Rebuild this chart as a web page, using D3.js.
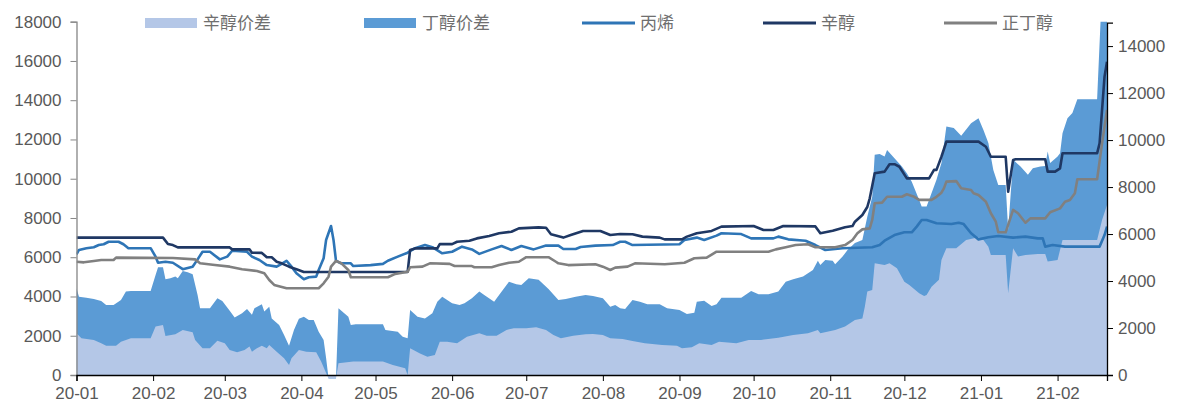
<!DOCTYPE html>
<html lang="zh">

<head>
    <meta charset="utf-8">
    <script src='https://d3js.org/d3.v7.min.js'></script>
</head>

<body style="margin:0;background:#fff">

    <style>
        svg text {
            font-family: "Liberation Sans", Arial, sans-serif;
            font-size: 17px;
            fill: #595959;
        }

        svg .legend text {
            font-family: "Noto Sans CJK SC", sans-serif;
            font-size: 17px;
            fill: #6f6f6f;
        }
    </style>

    <script>
        // 价差 (right axis), yuan/t
        let octSpread = [["2020-01-01",1780],["2020-01-03",1560],["2020-01-08",1490],["2020-01-11",1350],["2020-01-13",1240],["2020-01-17",1240],["2020-01-19",1420],["2020-01-23",1560],["2020-01-31",1560],["2020-02-02",2060],["2020-02-05",2130],["2020-02-06",1660],["2020-02-10",1730],["2020-02-13",1920],["2020-02-17",1820],["2020-02-18",1490],["2020-02-21",1140],["2020-02-24",1140],["2020-02-27",1460],["2020-03-01",1350],["2020-03-03",1060],["2020-03-06",970],["2020-03-09",1060],["2020-03-11",1210],["2020-03-12",990],["2020-03-14",1140],["2020-03-16",1240],["2020-03-18",1140],["2020-03-19",1280],["2020-03-22",990],["2020-03-25",710],["2020-03-27",430],["2020-03-28",710],["2020-03-31",1060],["2020-04-03",990],["2020-04-07",970],["2020-04-09",570],["2020-04-11",90],["2020-04-12",-150],["2020-04-15",-150],["2020-04-16",500],["2020-04-22",570],["2020-05-04",570],["2020-05-08",430],["2020-05-13",290],["2020-05-14",0],["2020-05-15",1140],["2020-05-19",920],["2020-05-22",780],["2020-05-25",850],["2020-05-27",1420],["2020-05-30",1420],["2020-06-03",1350],["2020-06-07",1630],["2020-06-12",1780],["2020-06-15",1670],["2020-06-19",1670],["2020-06-23",1920],["2020-06-26",1990],["2020-07-01",1990],["2020-07-05",2030],["2020-07-09",1920],["2020-07-12",1700],["2020-07-15",1560],["2020-07-20",1670],["2020-07-25",1730],["2020-07-28",1750],["2020-08-01",1700],["2020-08-04",1560],["2020-08-09",1530],["2020-08-13",1450],["2020-08-18",1350],["2020-08-25",1280],["2020-08-31",1250],["2020-09-02",1140],["2020-09-06",1180],["2020-09-09",1350],["2020-09-14",1280],["2020-09-17",1420],["2020-09-24",1350],["2020-09-29",1490],["2020-10-04",1490],["2020-10-11",1590],["2020-10-17",1700],["2020-10-23",1780],["2020-10-27",1920],["2020-10-28",1780],["2020-11-03",1920],["2020-11-07",2060],["2020-11-11",2340],["2020-11-14",2410],["2020-11-15",2910],["2020-11-16",3550],["2020-11-18",3620],["2020-11-19",4760],["2020-11-23",4680],["2020-11-25",4760],["2020-11-28",4540],["2020-12-01",3970],["2020-12-03",3830],["2020-12-07",3480],["2020-12-09",3360],["2020-12-10",3410],["2020-12-12",3760],["2020-12-15",4050],["2020-12-16",4900],["2020-12-18",5400],["2020-12-22",5400],["2020-12-26",5750],["2020-12-31",5860],["2021-01-02",5750],["2021-01-04",5460],["2021-01-05",5110],["2021-01-11",5110],["2021-01-12",3480],["2021-01-14",5400],["2021-01-16",5040],["2021-01-19",5110],["2021-01-24",5150],["2021-01-27",5150],["2021-01-28",4830],["2021-02-01",4900],["2021-02-03",5750],["2021-02-17",5750],["2021-02-19",6600],["2021-02-21",7240]];

        let butSpread = [["2020-01-01",3690],["2020-01-02",3330],["2020-01-05",3290],["2020-01-08",3240],["2020-01-11",3150],["2020-01-13",2980],["2020-01-16",2980],["2020-01-19",3190],["2020-01-21",3550],["2020-01-23",3580],["2020-01-31",3580],["2020-02-02",4260],["2020-02-03",4590],["2020-02-05",4590],["2020-02-06",4080],["2020-02-08",4120],["2020-02-10",4190],["2020-02-11",4120],["2020-02-13",4430],["2020-02-15",4370],["2020-02-17",4290],["2020-02-19",3410],["2020-02-20",2840],["2020-02-24",2840],["2020-02-27",3270],["2020-02-29",3150],["2020-03-03",2730],["2020-03-05",2450],["2020-03-08",2630],["2020-03-10",2810],["2020-03-12",2560],["2020-03-13",2840],["2020-03-16",3010],["2020-03-17",2700],["2020-03-19",2910],["2020-03-20",2410],["2020-03-23",2130],["2020-03-25",1700],["2020-03-27",1250],["2020-03-29",1920],["2020-03-31",2390],["2020-04-02",2480],["2020-04-04",2340],["2020-04-06",2340],["2020-04-08",1840],["2020-04-10",1490],["2020-04-11",720],["2020-04-12",-150],["2020-04-15",-150],["2020-04-16",2840],["2020-04-20",2480],["2020-04-21",2130],["2020-04-23",2160],["2020-05-04",2160],["2020-05-05",1920],["2020-05-10",1840],["2020-05-12",1630],["2020-05-14",1560],["2020-05-15",2770],["2020-05-18",2480],["2020-05-21",2410],["2020-05-24",2630],["2020-05-26",3120],["2020-05-28",3330],["2020-06-01",3050],["2020-06-04",2980],["2020-06-06",3050],["2020-06-09",3270],["2020-06-12",3550],["2020-06-14",3410],["2020-06-18",3120],["2020-06-20",3410],["2020-06-24",3970],["2020-06-27",3860],["2020-06-29",3830],["2020-07-02",4120],["2020-07-06",4050],["2020-07-10",3660],["2020-07-14",3190],["2020-07-17",3240],["2020-07-21",3330],["2020-07-25",3410],["2020-07-28",3360],["2020-08-01",3270],["2020-08-04",2910],["2020-08-06",2980],["2020-08-08",2840],["2020-08-10",2810],["2020-08-13",3190],["2020-08-16",3120],["2020-08-19",3010],["2020-08-24",3010],["2020-08-27",2840],["2020-09-01",2770],["2020-09-04",2600],["2020-09-07",2650],["2020-09-08",3120],["2020-09-11",3160],["2020-09-14",2940],["2020-09-16",3010],["2020-09-18",3290],["2020-09-26",3290],["2020-09-30",3580],["2020-10-03",3440],["2020-10-07",3440],["2020-10-11",3550],["2020-10-14",3970],["2020-10-17",4080],["2020-10-21",4190],["2020-10-25",4470],["2020-10-27",4860],["2020-10-28",4680],["2020-10-30",4900],["2020-11-02",4860],["2020-11-03",4710],["2020-11-06",5040],["2020-11-08",5320],["2020-11-11",5620],["2020-11-14",5750],["2020-11-16",6740],["2020-11-18",7590],["2020-11-19",9370],["2020-11-21",9410],["2020-11-23",9300],["2020-11-24",9580],["2020-11-27",9230],["2020-11-30",8870],["2020-12-02",8590],["2020-12-04",8230],["2020-12-07",7450],["2020-12-08",7170],["2020-12-10",7170],["2020-12-14",8310],["2020-12-16",9020],["2020-12-18",10580],["2020-12-21",10510],["2020-12-24",10180],["2020-12-28",10720],["2020-12-31",10930],["2021-01-02",10430],["2021-01-04",9870],["2021-01-06",8730],["2021-01-08",8090],["2021-01-11",8090],["2021-01-12",6180],["2021-01-14",9160],["2021-01-17",8870],["2021-01-20",8520],["2021-01-22",8800],["2021-01-25",8870],["2021-01-27",8900],["2021-01-28",9510],["2021-01-29",9020],["2021-02-01",9300],["2021-02-02",9440],["2021-02-03",10290],["2021-02-05",10930],["2021-02-07",11150],["2021-02-09",11740],["2021-02-17",11740],["2021-02-19",16500],["2021-02-21",17000]];

        // 价格 (left axis), yuan/t
        let propylene = [["2020-01-01",6150],["2020-01-02",6370],["2020-01-05",6460],["2020-01-08",6510],["2020-01-10",6620],["2020-01-12",6660],["2020-01-14",6790],["2020-01-18",6790],["2020-01-20",6660],["2020-01-22",6460],["2020-01-31",6460],["2020-02-02",6030],["2020-02-03",5720],["2020-02-06",5770],["2020-02-09",5720],["2020-02-13",5390],["2020-02-17",5520],["2020-02-19",5890],["2020-02-21",6280],["2020-02-24",6280],["2020-02-28",5890],["2020-03-02",6030],["2020-03-04",6330],["2020-03-10",6280],["2020-03-12",6030],["2020-03-15",5860],["2020-03-18",5600],["2020-03-22",5520],["2020-03-24",5660],["2020-03-26",5820],["2020-03-28",5520],["2020-03-30",5180],["2020-04-02",4880],["2020-04-04",4980],["2020-04-07",5010],["2020-04-08",5350],["2020-04-10",5950],["2020-04-11",6880],["2020-04-13",7590],["2020-04-14",6880],["2020-04-15",5830],["2020-04-17",5690],["2020-04-21",5690],["2020-04-22",5550],["2020-04-29",5600],["2020-05-04",5660],["2020-05-06",5820],["2020-05-10",6030],["2020-05-14",6230],["2020-05-17",6460],["2020-05-21",6620],["2020-05-24",6510],["2020-05-28",6200],["2020-06-01",6280],["2020-06-05",6540],["2020-06-09",6400],["2020-06-12",6170],["2020-06-17",6400],["2020-06-21",6570],["2020-06-25",6370],["2020-06-29",6570],["2020-07-04",6400],["2020-07-09",6600],["2020-07-14",6590],["2020-07-16",6420],["2020-07-21",6420],["2020-07-23",6520],["2020-07-29",6590],["2020-08-05",6620],["2020-08-08",6790],["2020-08-10",6790],["2020-08-13",6620],["2020-09-01",6660],["2020-09-03",6880],["2020-09-08",7000],["2020-09-11",6880],["2020-09-16",7100],["2020-09-18",7220],["2020-09-26",7180],["2020-09-30",6960],["2020-10-09",6960],["2020-10-11",7050],["2020-10-15",6910],["2020-10-22",6840],["2020-10-26",6620],["2020-10-30",6370],["2020-11-06",6460],["2020-11-18",6510],["2020-11-21",6620],["2020-11-23",6840],["2020-11-27",7130],["2020-12-01",7270],["2020-12-04",7270],["2020-12-06",7560],["2020-12-08",7900],["2020-12-10",7900],["2020-12-14",7730],["2020-12-20",7690],["2020-12-23",7760],["2020-12-25",7690],["2020-12-28",7220],["2020-12-31",6910],["2021-01-04",7020],["2021-01-08",7080],["2021-01-14",7000],["2021-01-19",7050],["2021-01-24",6960],["2021-01-26",6960],["2021-01-27",6540],["2021-01-30",6620],["2021-02-04",6540],["2021-02-18",6540],["2021-02-20",7130],["2021-02-21",7560]];

        let octanol = [["2020-01-01",7000],["2020-02-05",7000],["2020-02-07",6670],["2020-02-09",6620],["2020-02-11",6500],["2020-03-03",6500],["2020-03-04",6400],["2020-03-11",6400],["2020-03-12",6230],["2020-03-16",6220],["2020-03-18",6000],["2020-03-20",6000],["2020-03-22",5770],["2020-03-24",5690],["2020-03-27",5520],["2020-03-30",5390],["2020-04-02",5250],["2020-05-14",5250],["2020-05-15",6370],["2020-05-17",6450],["2020-05-26",6450],["2020-05-27",6670],["2020-06-01",6670],["2020-06-03",6790],["2020-06-08",6840],["2020-06-11",6960],["2020-06-16",7080],["2020-06-20",7220],["2020-06-25",7300],["2020-06-28",7470],["2020-07-06",7520],["2020-07-09",7500],["2020-07-11",7170],["2020-07-16",7000],["2020-07-19",7130],["2020-07-24",7340],["2020-07-31",7340],["2020-08-04",7130],["2020-08-08",7180],["2020-08-13",7170],["2020-08-17",7050],["2020-08-24",7000],["2020-08-26",6910],["2020-09-02",6910],["2020-09-04",7050],["2020-09-08",7220],["2020-09-14",7340],["2020-09-18",7560],["2020-10-01",7590],["2020-10-05",7390],["2020-10-09",7390],["2020-10-13",7590],["2020-10-26",7570],["2020-10-28",7220],["2020-11-02",7350],["2020-11-07",7530],["2020-11-10",7590],["2020-11-11",7810],["2020-11-14",8150],["2020-11-16",8560],["2020-11-17",9000],["2020-11-19",10280],["2020-11-23",10360],["2020-11-25",10740],["2020-11-27",10740],["2020-11-29",10610],["2020-12-02",10020],["2020-12-11",10020],["2020-12-13",10450],["2020-12-14",10450],["2020-12-16",11120],["2020-12-18",11890],["2020-12-31",11890],["2021-01-03",11630],["2021-01-05",11120],["2021-01-11",11120],["2021-01-12",9340],["2021-01-14",10950],["2021-01-15",10990],["2021-01-27",10990],["2021-01-28",10360],["2021-01-31",10360],["2021-02-02",10530],["2021-02-03",11300],["2021-02-17",11300],["2021-02-18",11800],["2021-02-20",15200],["2021-02-21",15960]];

        let butanol = [["2020-01-01",5770],["2020-01-04",5740],["2020-01-08",5810],["2020-01-11",5860],["2020-01-16",5860],["2020-01-17",5980],["2020-02-09",5960],["2020-02-18",5890],["2020-02-20",5690],["2020-02-26",5600],["2020-03-03",5520],["2020-03-08",5390],["2020-03-14",5300],["2020-03-17",5180],["2020-03-19",4840],["2020-03-21",4590],["2020-03-26",4420],["2020-04-08",4420],["2020-04-10",4670],["2020-04-12",5010],["2020-04-13",5520],["2020-04-15",5810],["2020-04-17",5710],["2020-04-20",5350],["2020-04-21",4980],["2020-05-06",4980],["2020-05-09",5150],["2020-05-14",5260],["2020-05-15",5490],["2020-05-20",5520],["2020-05-23",5690],["2020-05-31",5660],["2020-06-02",5550],["2020-06-09",5550],["2020-06-10",5490],["2020-06-17",5490],["2020-06-20",5600],["2020-06-24",5720],["2020-06-28",5770],["2020-07-01",6000],["2020-07-10",6000],["2020-07-13",5770],["2020-07-14",5690],["2020-07-18",5600],["2020-07-29",5640],["2020-08-01",5520],["2020-08-04",5350],["2020-08-06",5470],["2020-08-11",5520],["2020-08-14",5690],["2020-08-26",5640],["2020-09-03",5720],["2020-09-07",5950],["2020-09-12",5980],["2020-09-16",6280],["2020-10-07",6280],["2020-10-10",6400],["2020-10-14",6510],["2020-10-18",6620],["2020-10-23",6660],["2020-10-26",6510],["2020-11-03",6510],["2020-11-07",6620],["2020-11-10",6880],["2020-11-12",7220],["2020-11-14",7420],["2020-11-17",7470],["2020-11-18",7900],["2020-11-19",8750],["2020-11-22",8780],["2020-11-24",9080],["2020-11-30",9080],["2020-12-02",9210],["2020-12-05",9080],["2020-12-07",8920],["2020-12-12",8920],["2020-12-14",9080],["2020-12-16",9290],["2020-12-17",9510],["2020-12-18",9850],["2020-12-22",9880],["2020-12-24",9510],["2020-12-28",9430],["2020-12-29",9260],["2020-12-31",9170],["2021-01-03",8830],["2021-01-05",8240],["2021-01-07",7810],["2021-01-08",7270],["2021-01-11",7270],["2021-01-14",8410],["2021-01-16",8240],["2021-01-19",7760],["2021-01-21",7980],["2021-01-27",7980],["2021-01-29",8290],["2021-02-02",8490],["2021-02-04",8830],["2021-02-06",8920],["2021-02-08",9260],["2021-02-09",9970],["2021-02-17",9970],["2021-02-19",11800],["2021-02-21",13500]];

        let leftTicks = d3.range(0, 18001, 2000);
        let rightTicks = d3.range(0, 14001, 2000);
        let monthTicks = d3.timeMonth.range(new Date(2020, 0, 1), new Date(2021, 1, 2));

        var width = 1178, height = 405;
        var parse = d3.timeParse("%Y-%m-%d");

        var x = d3.scaleTime()
            .domain([new Date(2020, 0, 1), new Date(2021, 1, 21)])
            .range([76.5, 1107]);
        var yL = d3.scaleLinear().domain([0, 18000]).range([375, 21.7]);
        var yR = d3.scaleLinear().domain([0, 15000]).range([375, 22.6]);

        var svg = d3.select("body")
            .append("svg")
            .attr("width", width)
            .attr("height", height);

        svg.append("clipPath").attr("id", "plot")
            .append("rect")
            .attr("x", 76.5).attr("y", 21.7)
            .attr("width", 1107 - 76.5).attr("height", 362);

        var area = d3.area()
            .x(function(d) { return x(parse(d[0])); })
            .y0(yR(0))
            .y1(function(d) { return yR(d[1]); });

        var line = d3.line()
            .x(function(d) { return x(parse(d[0])); })
            .y(function(d) { return yL(d[1]); });

        var g = svg.append("g").attr("clip-path", "url(#plot)");

        g.append("path").datum(butSpread).attr("d", area).attr("fill", "#5b9bd5");
        g.append("path").datum(octSpread).attr("d", area).attr("fill", "#b4c7e7");

        [[propylene, "#2e75b6"], [octanol, "#1f3864"], [butanol, "#808080"]].forEach(function(s) {
            g.append("path").datum(s[0])
                .attr("d", line)
                .attr("fill", "none")
                .attr("stroke", s[1])
                .attr("stroke-width", 2.6)
                .attr("stroke-linejoin", "round");
        });

        // axes
        var left = svg.append("g").attr("transform", "translate(76.5,0)")
            .call(d3.axisLeft(yL).tickValues(leftTicks).tickSize(6).tickPadding(9).tickFormat(d3.format("d")));
        left.select(".domain").attr("stroke", "#868686").attr("stroke-width", 1.3);
        left.selectAll(".tick line").attr("stroke", "#868686");

        var right = svg.append("g").attr("transform", "translate(1107,0)")
            .call(d3.axisRight(yR).tickValues(rightTicks).tickSize(6).tickPadding(5).tickFormat(d3.format("d")));
        right.select(".domain").attr("stroke", "#000").attr("stroke-width", 1.3);

        var bottom = svg.append("g").attr("transform", "translate(0,375)")
            .call(d3.axisBottom(x).tickValues(monthTicks).tickSize(6).tickPadding(6).tickFormat(d3.timeFormat("%y-%m")));
        bottom.select(".domain").attr("stroke", "#000").attr("stroke-width", 1.3);

        svg.selectAll(".tick text").attr("fill", "#595959").style("font-size", "17px")
            .style("font-family", "'Liberation Sans', Arial, sans-serif");

        // legend
        var legendItems = [
            { name: "辛醇价差", type: "area", color: "#b4c7e7", x: 145 },
            { name: "丁醇价差", type: "area", color: "#5b9bd5", x: 364 },
            { name: "丙烯", type: "line", color: "#2e75b6", x: 582 },
            { name: "辛醇", type: "line", color: "#1f3864", x: 763 },
            { name: "正丁醇", type: "line", color: "#808080", x: 944 }
        ];
        var legend = svg.append("g").attr("class", "legend");
        var item = legend.selectAll("g").data(legendItems).enter().append("g")
            .attr("transform", function(d) { return "translate(" + d.x + ",23)"; });
        item.filter(function(d) { return d.type == "area"; }).append("rect")
            .attr("x", 0).attr("y", -5).attr("width", 52).attr("height", 10)
            .attr("fill", function(d) { return d.color; });
        item.filter(function(d) { return d.type == "line"; }).append("line")
            .attr("x1", 0).attr("x2", 53).attr("y1", 0).attr("y2", 0)
            .attr("stroke", function(d) { return d.color; }).attr("stroke-width", 3);
        item.append("text")
            .attr("x", 58).attr("y", 0).attr("dy", "0.35em")
            .text(function(d) { return d.name; });
    </script>
</body>

</html>
